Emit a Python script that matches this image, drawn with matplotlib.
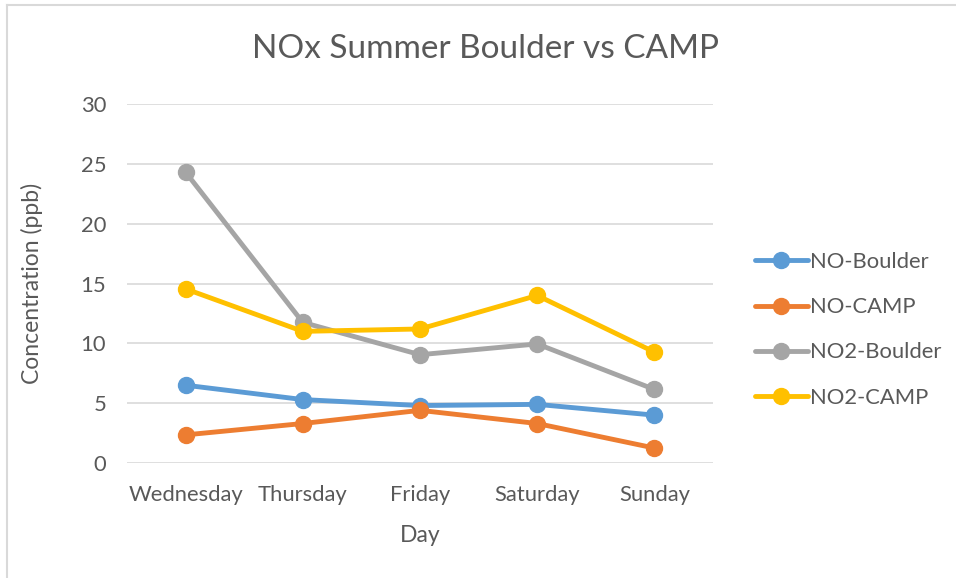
import matplotlib
matplotlib.use("Agg")
import matplotlib.pyplot as plt
from matplotlib.lines import Line2D

days = ["Wednesday", "Thursday", "Friday", "Saturday", "Sunday"]
no_boulder = [6.5, 5.3, 4.8, 4.9, 4.0]
no_camp = [2.35, 3.3, 4.4, 3.3, 1.25]
no2_boulder = [24.3, 11.75, 9.05, 9.95, 6.15]
no2_camp = [14.55, 11.0, 11.2, 14.0, 9.27]
yticks = [0, 5, 10, 15, 20, 25, 30]

colors = ["#5B9BD5", "#ED7D31", "#A5A5A5", "#FFC000"]
names = ["NO-Boulder", "NO-CAMP", "NO2-Boulder", "NO2-CAMP"]
series = [no_boulder, no_camp, no2_boulder, no2_camp]
txt = "#595959"

plt.rcParams['font.family'] = ['Lato', 'DejaVu Sans']

fig = plt.figure(figsize=(9.56, 5.78), dpi=100)
ax = fig.add_axes([127/956, 1-463/578, (713-127)/956, (463-104)/578])

x = list(range(len(days)))
for vals, c, n in zip(series, colors, names):
    ax.plot(x, vals, color=c, lw=3.5, marker='o', ms=11.5, label=n,
            solid_capstyle='round', zorder=3)

ax.set_xlim(-0.5, 4.5)
ax.set_ylim(0, 30)
ax.set_yticks(yticks)
ax.set_xticks(x)
ax.set_xticklabels(days)
ax.grid(axis='y', color='#D9D9D9', lw=1.2)
ax.set_axisbelow(True)
for s in ax.spines.values():
    s.set_visible(False)
ax.tick_params(axis='both', length=0, colors=txt, labelsize=15.8)
ax.tick_params(axis='y', pad=15)
ax.tick_params(axis='x', pad=16)

fig.text(486/956, 1-49/578, "NOx Summer Boulder vs CAMP", fontsize=24,
         color=txt, ha='center', va='center')
ax.set_xlabel("Day", fontsize=16.5, color=txt, labelpad=14)
ax.set_ylabel("Concentration (ppb)", fontsize=16.5, color=txt, labelpad=27)

leg = fig.legend(loc='upper left', bbox_to_anchor=(755/956, 1-252/578),
                 frameon=False, fontsize=15.8, labelspacing=1.15,
                 borderpad=0, borderaxespad=0,
                 handlelength=2.4, handletextpad=0.1, labelcolor=txt)

# outer chart border (left and top)
fig.add_artist(Line2D([7/956, 7/956], [0, 1-5/578], transform=fig.transFigure,
                      color='#D9D9D9', lw=1.5))
fig.add_artist(Line2D([7/956, 1], [1-5/578, 1-5/578], transform=fig.transFigure,
                      color='#D9D9D9', lw=1.5))

fig.savefig("out.png", dpi=100)
